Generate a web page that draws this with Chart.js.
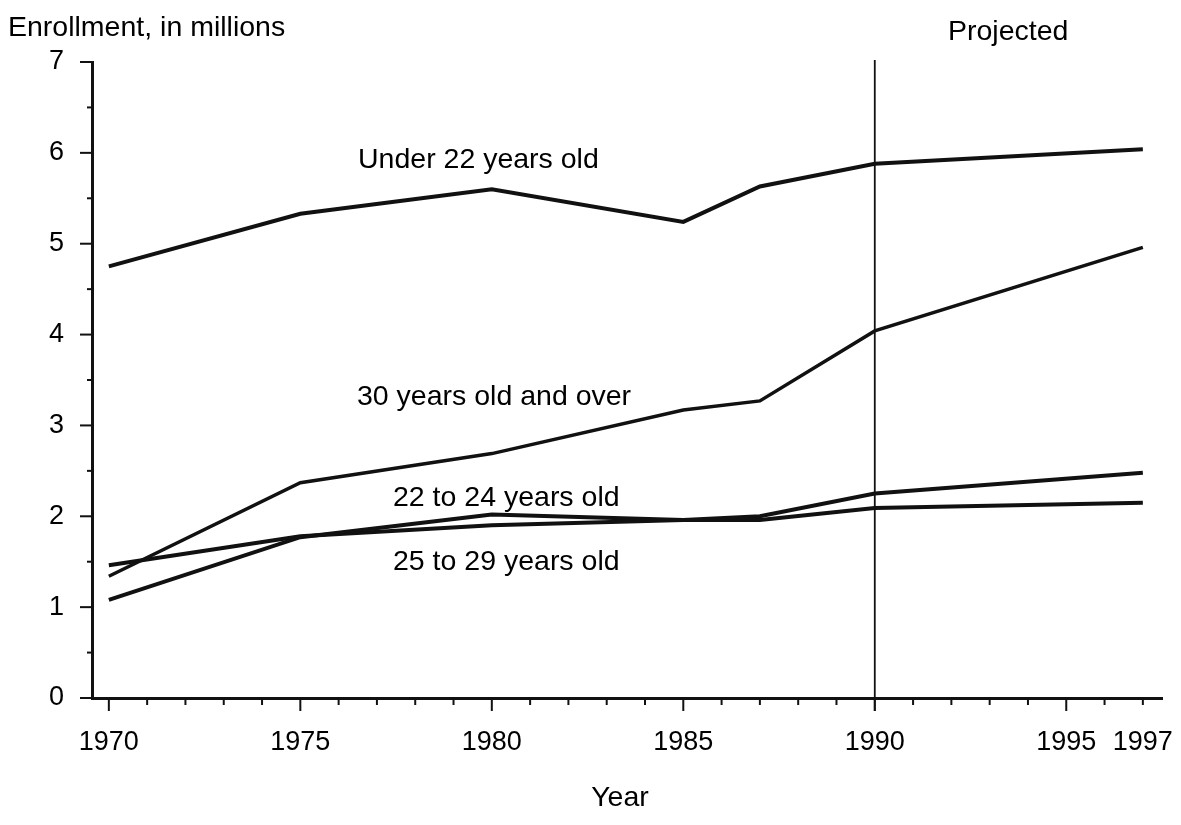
<!DOCTYPE html>
<html>
<head>
<meta charset="utf-8">
<title>Enrollment by age</title>
<script src="https://cdn.jsdelivr.net/npm/chart.js@4.4.1/dist/chart.umd.min.js"></script>
<style>
  html, body { margin: 0; padding: 0; background: #fff; }
  #wrap { width: 1181px; height: 825px; }
</style>
</head>
<body>
<div id="wrap"><canvas id="enrollChart" width="1181" height="825"></canvas></div>
<script>
// values (millions)
const years = [1970, 1975, 1980, 1985, 1987, 1990, 1997];
const under22 = [4.75, 5.33, 5.60, 5.24, 5.63, 5.88, 6.04];
const age22to24 = [1.08, 1.77, 2.02, 1.96, 2.00, 2.25, 2.48];
const age25to29 = [1.46, 1.78, 1.90, 1.96, 1.96, 2.09, 2.15];
const age30plus = [1.34, 2.37, 2.69, 3.17, 3.27, 4.04, 4.96];

const xTickLabels = [1970, 1975, 1980, 1985, 1990, 1995, 1997];
const yTickLabels = [0, 1, 2, 3, 4, 5, 6, 7];
const projectedFrom = 1990;

const FONT = "'Liberation Sans', Arial, Helvetica, sans-serif";

function toPoints(vals) {
  return years.map((yr, i) => ({ x: yr, y: vals[i] }));
}

function lineSet(label, vals, width) {
  return {
    label: label,
    data: toPoints(vals),
    borderColor: "#111",
    borderWidth: width,
    pointRadius: 0,
    tension: 0,
    fill: false
  };
}

// tick marks (major + minor), the projection line and the text labels
const decorPlugin = {
  id: "decor",
  afterDraw(chart) {
    const ctx = chart.ctx;
    const xs = chart.scales.x;
    const ys = chart.scales.y;
    const area = chart.chartArea;
    ctx.save();
    ctx.strokeStyle = "#111";
    ctx.lineWidth = 2;

    for (let v = 0; v <= 7; v += 0.5) {
      const py = ys.getPixelForValue(v);
      const len = Number.isInteger(v) ? 12 : 5;
      ctx.beginPath();
      ctx.moveTo(area.left - len, py);
      ctx.lineTo(area.left, py);
      ctx.stroke();
    }
    for (let yr = 1970; yr <= 1997; yr++) {
      const px = xs.getPixelForValue(yr);
      const len = yr % 5 === 0 ? 13 : 7;
      ctx.beginPath();
      ctx.moveTo(px, area.bottom);
      ctx.lineTo(px, area.bottom + len);
      ctx.stroke();
    }

    // projection divider
    const px = xs.getPixelForValue(projectedFrom);
    ctx.lineWidth = 1.8;
    ctx.beginPath();
    ctx.moveTo(px, area.top - 2);
    ctx.lineTo(px, area.bottom + 13);
    ctx.stroke();

    ctx.fillStyle = "#000";
    ctx.font = "28.5px " + FONT;
    ctx.textBaseline = "middle";
    ctx.textAlign = "left";
    ctx.fillText("Enrollment, in millions", 8, 28);
    ctx.fillText("Projected", 948, 32);
    ctx.fillText("Under 22 years old", 358, 160);
    ctx.fillText("30 years old and over", 357, 397);
    ctx.fillText("22 to 24 years old", 393, 498);
    ctx.fillText("25 to 29 years old", 393, 562);
    ctx.textAlign = "center";
    ctx.fillText("Year", 620, 798);
    ctx.restore();
  }
};

const ctx = document.getElementById("enrollChart");

new Chart(ctx, {
  type: "line",
  data: {
    datasets: [
      lineSet("Under 22 years old", under22, 4),
      lineSet("30 years old and over", age30plus, 3.5),
      lineSet("22 to 24 years old", age22to24, 4),
      lineSet("25 to 29 years old", age25to29, 4)
    ]
  },
  options: {
    responsive: false,
    animation: false,
    devicePixelRatio: 1,
    layout: { padding: { top: 62, right: 19, left: 0, bottom: 0 } },
    plugins: {
      legend: { display: false },
      tooltip: { enabled: false }
    },
    scales: {
      x: {
        type: "linear",
        min: 1969.56,
        max: 1997.5,
        afterFit(scale) {
          scale.height = 127;
          scale.paddingLeft = 0;
          scale.paddingRight = 0;
        },
        afterBuildTicks(scale) {
          scale.ticks = xTickLabels.map(v => ({ value: v }));
        },
        ticks: {
          autoSkip: false,
          maxRotation: 0,
          padding: 28,
          color: "#000",
          font: { family: FONT, size: 27 },
          callback: v => String(v)
        },
        grid: { display: true, drawOnChartArea: false, drawTicks: false },
        border: { display: true, color: "#111", width: 3 }
      },
      y: {
        min: 0,
        max: 7,
        afterFit(scale) {
          scale.width = 92;
          scale.paddingTop = 0;
          scale.paddingBottom = 0;
        },
        afterBuildTicks(scale) {
          scale.ticks = yTickLabels.map(v => ({ value: v }));
        },
        ticks: {
          padding: 28,
          color: "#000",
          font: { family: FONT, size: 27 },
          callback: v => String(v)
        },
        grid: { display: true, drawOnChartArea: false, drawTicks: false },
        border: { display: true, color: "#111", width: 3 }
      }
    }
  },
  plugins: [decorPlugin]
});
</script>
</body>
</html>
